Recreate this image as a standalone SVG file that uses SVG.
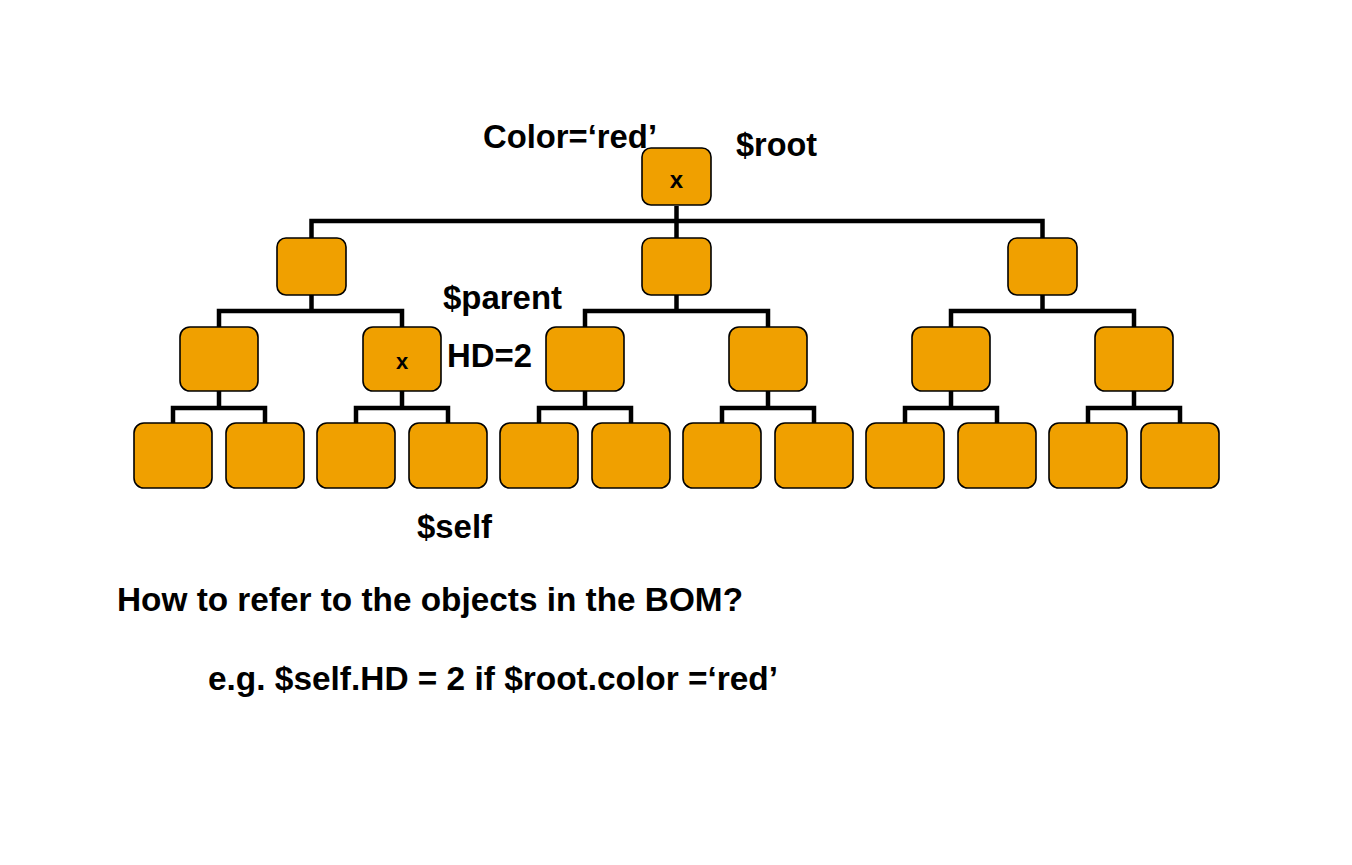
<svg xmlns="http://www.w3.org/2000/svg" width="1352" height="865" viewBox="0 0 1352 865">
<style>
.n{fill:#F0A000;stroke:#000;stroke-width:1.6}
.c{fill:none;stroke:#000;stroke-width:4.5;stroke-linejoin:miter;stroke-linecap:butt}
.t{font-family:"Liberation Sans",Arial,sans-serif;font-weight:bold;font-size:33px;fill:#000}
.x{font-family:"Liberation Sans",Arial,sans-serif;font-weight:bold;font-size:24px;fill:#000;text-anchor:middle}
</style>
<rect width="1352" height="865" fill="#fff"/>
<g id="connectors">
<path class="c" d="M676.5 206V238M311.5 238V221H1042.5V238"/>
<path class="c" d="M311.5 295V311M219 327V311H402V327"/>
<path class="c" d="M676.5 295V311M585 327V311H768V327"/>
<path class="c" d="M1042.5 295V311M951 327V311H1134V327"/>
<path class="c" d="M219 391V408M173 423V408H265V423"/>
<path class="c" d="M402 391V408M356 423V408H448V423"/>
<path class="c" d="M585 391V408M539 423V408H631V423"/>
<path class="c" d="M768 391V408M722 423V408H814V423"/>
<path class="c" d="M951 391V408M905 423V408H997V423"/>
<path class="c" d="M1134 391V408M1088 423V408H1180V423"/>
</g>
<g id="root"><rect class="n" x="642" y="148" width="69" height="57" rx="9"/><text class="x" x="676.5" y="188">x</text></g>
<g id="l1a"><rect class="n" x="277" y="238" width="69" height="57" rx="9"/></g>
<g id="l1b"><rect class="n" x="642" y="238" width="69" height="57" rx="9"/></g>
<g id="l1c"><rect class="n" x="1008" y="238" width="69" height="57" rx="9"/></g>
<g id="l2a"><rect class="n" x="180" y="327" width="78" height="64" rx="10"/></g>
<g id="l2b"><rect class="n" x="363" y="327" width="78" height="64" rx="10"/><text class="x" x="402" y="369" style="font-size:22px">x</text></g>
<g id="l2c"><rect class="n" x="546" y="327" width="78" height="64" rx="10"/></g>
<g id="l2d"><rect class="n" x="729" y="327" width="78" height="64" rx="10"/></g>
<g id="l2e"><rect class="n" x="912" y="327" width="78" height="64" rx="10"/></g>
<g id="l2f"><rect class="n" x="1095" y="327" width="78" height="64" rx="10"/></g>
<g id="l3a"><rect class="n" x="134" y="423" width="78" height="65" rx="10"/></g>
<g id="l3b"><rect class="n" x="226" y="423" width="78" height="65" rx="10"/></g>
<g id="l3c"><rect class="n" x="317" y="423" width="78" height="65" rx="10"/></g>
<g id="l3d"><rect class="n" x="409" y="423" width="78" height="65" rx="10"/></g>
<g id="l3e"><rect class="n" x="500" y="423" width="78" height="65" rx="10"/></g>
<g id="l3f"><rect class="n" x="592" y="423" width="78" height="65" rx="10"/></g>
<g id="l3g"><rect class="n" x="683" y="423" width="78" height="65" rx="10"/></g>
<g id="l3h"><rect class="n" x="775" y="423" width="78" height="65" rx="10"/></g>
<g id="l3i"><rect class="n" x="866" y="423" width="78" height="65" rx="10"/></g>
<g id="l3j"><rect class="n" x="958" y="423" width="78" height="65" rx="10"/></g>
<g id="l3k"><rect class="n" x="1049" y="423" width="78" height="65" rx="10"/></g>
<g id="l3l"><rect class="n" x="1141" y="423" width="78" height="65" rx="10"/></g>
<g id="labels">
<text class="t" x="483" y="148" textLength="174" lengthAdjust="spacingAndGlyphs">Color=‘red’</text>
<text class="t" x="736" y="156" textLength="81" lengthAdjust="spacingAndGlyphs">$root</text>
<text class="t" x="443" y="309" textLength="119" lengthAdjust="spacingAndGlyphs">$parent</text>
<text class="t" x="447" y="367" textLength="85" lengthAdjust="spacingAndGlyphs">HD=2</text>
<text class="t" x="417" y="538" textLength="75" lengthAdjust="spacingAndGlyphs">$self</text>
<text class="t" x="117" y="611" textLength="626" lengthAdjust="spacingAndGlyphs">How to refer to the objects in the BOM?</text>
<text class="t" x="208" y="690" textLength="570" lengthAdjust="spacingAndGlyphs">e.g. $self.HD = 2 if $root.color =‘red’</text>
</g>
</svg>
